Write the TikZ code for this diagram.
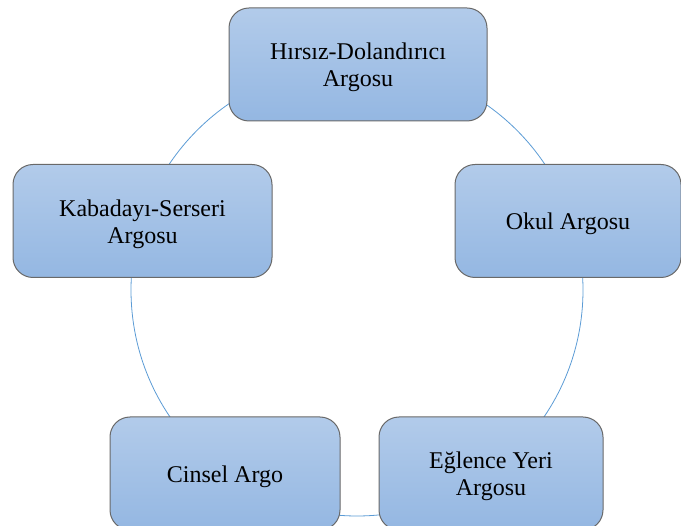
\documentclass[tikz,border=0pt]{standalone}
\usepackage{fontspec}
\setmainfont{Liberation Serif}
\definecolor{boxtop}{RGB}{178,203,234}
\definecolor{boxbot}{RGB}{148,183,226}
\definecolor{boxline}{RGB}{105,105,105}
\definecolor{ringblue}{RGB}{91,155,213}
\newcommand{\boxtext}[1]{\raisebox{-3.5pt}[\height][\depth]{\setlength{\tabcolsep}{0pt}\begin{tabular}{c}#1\end{tabular}}}
\begin{document}
\begin{tikzpicture}[x=1pt,y=-1pt,
  argobox/.style={draw=boxline, line width=1pt, rounded corners=20pt,
    top color=boxtop, bottom color=boxbot, minimum height=113pt,
    align=center, inner sep=0pt,
    font=\fontsize{24}{27}\selectfont},
  ring/.style={draw=ringblue, line width=0.8pt}]
\useasboundingbox (0,0) rectangle (681,526);
\clip (0,0) rectangle (681,526);
\coordinate (c) at (357,290);
\draw[ring] (c) circle[radius=226pt];
\node[argobox, minimum width=258pt] (hd) at (358,64.5) {\boxtext{Hırsız-Dolandırıcı\\Argosu}};
\node[argobox, minimum width=226pt] (ok) at (568,221) {\boxtext{Okul Argosu}};
\node[argobox, minimum width=259pt] (kb) at (142.5,221) {\boxtext{Kabadayı-Serseri\\Argosu}};
\node[argobox, minimum width=230pt] (cs) at (225,473.5) {\boxtext{Cinsel Argo}};
\node[argobox, minimum width=224pt] (eg) at (491,473.5) {\boxtext{Eğlence Yeri\\Argosu}};
\end{tikzpicture}
\end{document}
